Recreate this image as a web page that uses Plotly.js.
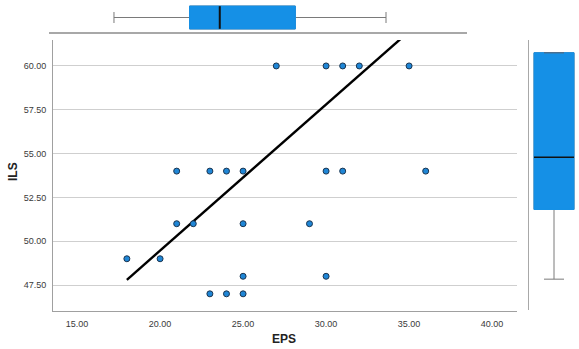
<!DOCTYPE html>
<html>
<head>
<meta charset="utf-8">
<script src="https://cdn.plot.ly/plotly-3.0.1.min.js"></script>
<style>html,body{margin:0;padding:0;background:#fff;}#chart{width:579px;height:349px;}</style>
</head>
<body>
<div id="chart"></div>
<script>
// Scatter data (EPS vs ILS)
const epsValues = [18, 20, 21, 21, 22, 23, 24, 25, 25, 29, 25, 30, 23, 24, 25, 27, 30, 31, 32, 35, 30, 31, 36];
const ilsValues = [49, 49, 54, 51, 51, 54, 54, 54, 51, 51, 48, 48, 47, 47, 47, 60, 60, 60, 60, 60, 54, 54, 54];
// Fit line end points (clipped by plot area)
const fitX = [18, 36];
const fitY = [47.8, 62.8];
// Marginal boxplot statistics: [min, q1, median, q3, max]
const epsBox = [18, 23, 25, 30, 36];
const ilsBox = [47, 51, 54, 60, 60];
// Tick labels
const xTicks = [15, 20, 25, 30, 35, 40];
const yTicks = [47.5, 50, 52.5, 55, 57.5, 60];

const W = 579, H = 349;
const px = v => v / W;
const py = v => (H - v) / H;

const boxFill = '#1590e6';
const whisker = '#7a7a7a';
const tickFont = {family: 'Liberation Sans, Arial, sans-serif', size: 9, color: '#3a3a3a'};
const titleFont = {family: 'Liberation Sans, Arial, sans-serif', size: 12, color: '#222', weight: 'bold'};

const traces = [
  {
    type: 'scatter', mode: 'lines', x: fitX, y: fitY, xaxis: 'x', yaxis: 'y',
    line: {color: '#000', width: 2.4}, hoverinfo: 'skip', showlegend: false
  },
  {
    type: 'scatter', mode: 'markers', x: epsValues, y: ilsValues, xaxis: 'x', yaxis: 'y',
    marker: {size: 6, color: '#1f86d6', line: {color: '#1b3550', width: 1}}, showlegend: false
  },
  // Top boxplot (EPS)
  {
    type: 'box', orientation: 'h', xaxis: 'x2', yaxis: 'y2', y: [0],
    lowerfence: [epsBox[0]], q1: [epsBox[1]], median: [epsBox[2]], q3: [epsBox[3]], upperfence: [epsBox[4]],
    fillcolor: boxFill, line: {color: whisker, width: 1}, width: 0.79, whiskerwidth: 0.48, showlegend: false
  },
  {
    type: 'box', orientation: 'h', xaxis: 'x2', yaxis: 'y2', y: [0],
    lowerfence: [epsBox[1]], q1: [epsBox[1]], median: [epsBox[2]], q3: [epsBox[3]], upperfence: [epsBox[3]],
    fillcolor: boxFill, line: {color: boxFill, width: 1}, width: 0.79, whiskerwidth: 0, showlegend: false
  },
  {
    type: 'scatter', mode: 'lines', xaxis: 'x2', yaxis: 'y2',
    x: [epsBox[2], epsBox[2]], y: [-0.39, 0.39],
    line: {color: '#111', width: 2}, hoverinfo: 'skip', showlegend: false
  },
  // Right boxplot (ILS)
  {
    type: 'box', orientation: 'v', xaxis: 'x3', yaxis: 'y3', x: [0],
    lowerfence: [ilsBox[0]], q1: [ilsBox[1]], median: [ilsBox[2]], q3: [ilsBox[3]], upperfence: [ilsBox[4]],
    fillcolor: boxFill, line: {color: whisker, width: 1}, width: 0.8, whiskerwidth: 0.5, showlegend: false
  },
  {
    type: 'box', orientation: 'v', xaxis: 'x3', yaxis: 'y3', x: [0],
    lowerfence: [ilsBox[1]], q1: [ilsBox[1]], median: [ilsBox[2]], q3: [ilsBox[3]], upperfence: [ilsBox[3]],
    fillcolor: boxFill, line: {color: boxFill, width: 1}, width: 0.8, whiskerwidth: 0, showlegend: false
  },
  {
    type: 'scatter', mode: 'lines', xaxis: 'x3', yaxis: 'y3',
    x: [-0.4, 0.4], y: [ilsBox[2], ilsBox[2]],
    line: {color: '#111', width: 1.5}, hoverinfo: 'skip', showlegend: false
  },
  {
    type: 'scatter', mode: 'lines', xaxis: 'x3', yaxis: 'y3',
    x: [-0.2, 0.2], y: [ilsBox[4], ilsBox[4]],
    line: {color: '#4a6f8f', width: 1.5}, hoverinfo: 'skip', showlegend: false
  }
];

const layout = {
  width: W, height: H,
  margin: {l: 0, r: 0, t: 0, b: 0},
  paper_bgcolor: '#fff', plot_bgcolor: 'rgba(0,0,0,0)',
  showlegend: false,
  boxmode: 'overlay',
  xaxis: {
    domain: [px(53), px(517)], range: [13.55, 41.5], anchor: 'y',
    tickvals: xTicks, tickformat: '.2f', tickfont: tickFont,
    showgrid: false, zeroline: false, showline: true, linecolor: '#a0a0a0', linewidth: 1,
    ticks: '', ticklabelstandoff: 4
  },
  yaxis: {
    domain: [py(311), py(40)], range: [46.02, 61.48], anchor: 'x',
    tickvals: yTicks, tickformat: '.2f', tickfont: tickFont,
    showgrid: true, gridcolor: '#cfcfcf', gridwidth: 1, zeroline: false,
    showline: true, linecolor: '#a0a0a0', linewidth: 1, ticks: '', ticklabelstandoff: 4
  },
  xaxis2: {
    domain: [px(49), px(467)], range: [13.70, 41.36], anchor: 'y2',
    showticklabels: false, showgrid: false, zeroline: false, ticks: '',
    showline: true, linecolor: '#a8a8a8', linewidth: 1.5
  },
  yaxis2: {
    domain: [py(32), py(3)], range: [-0.5, 0.5], anchor: 'x2',
    showticklabels: false, showgrid: false, zeroline: false, showline: false, ticks: ''
  },
  xaxis3: {
    domain: [px(529), px(579)], range: [-0.5, 0.5], anchor: 'y3',
    showticklabels: false, showgrid: false, zeroline: false, showline: false, ticks: ''
  },
  yaxis3: {
    domain: [py(310), py(40)], range: [45.23, 60.73], anchor: 'x3',
    showticklabels: false, showgrid: false, zeroline: false, ticks: '',
    showline: true, linecolor: '#a8a8a8', linewidth: 1.5
  },
  annotations: [
    {text: 'EPS', xref: 'paper', yref: 'paper', x: px(284), y: py(339), showarrow: false,
     xanchor: 'center', yanchor: 'middle', font: titleFont},
    {text: 'ILS', xref: 'paper', yref: 'paper', x: px(13), y: py(172), showarrow: false, textangle: -90,
     xanchor: 'center', yanchor: 'middle', font: titleFont}
  ]
};

Plotly.newPlot('chart', traces, layout, {displayModeBar: false, staticPlot: true});
</script>
</body>
</html>
